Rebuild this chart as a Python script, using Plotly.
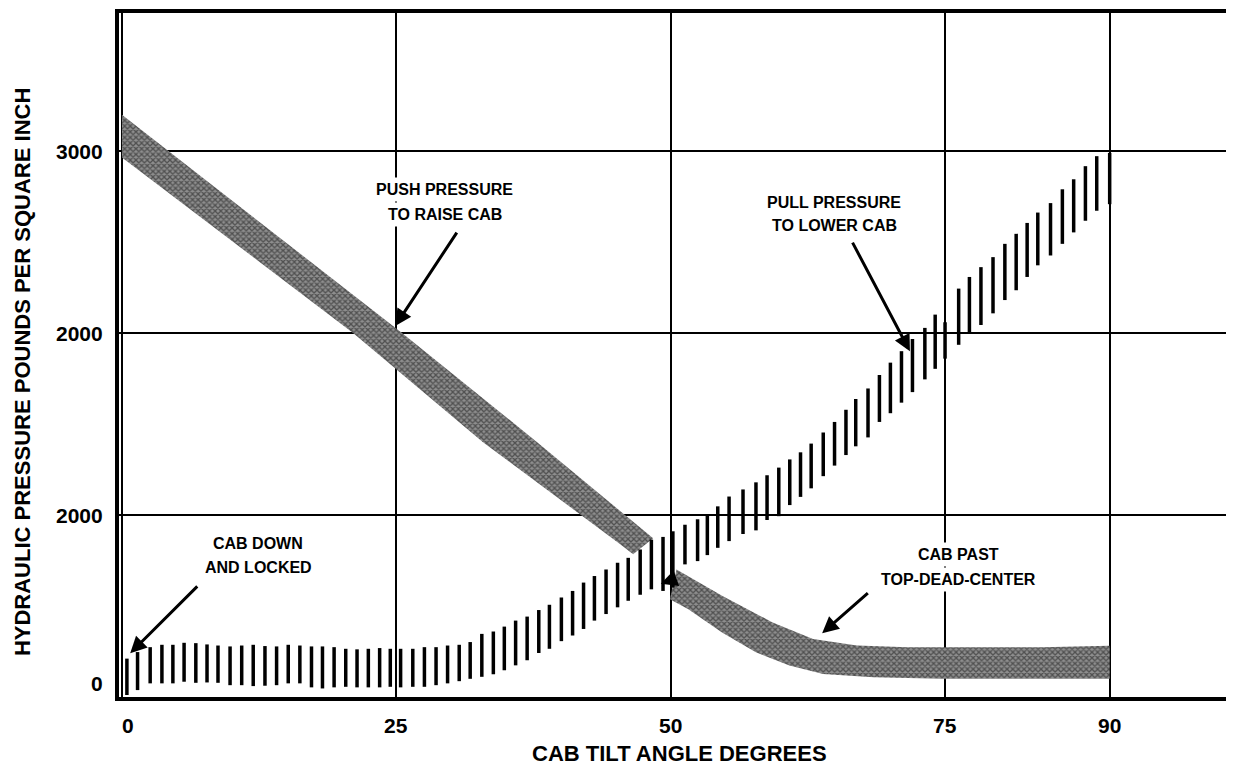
import plotly.graph_objects as go

# ---------------- data ----------------
x_ticks = [0, 25, 50, 75, 90]
x_tick_text = ["0", "25", "50", "75", "90"]
y_ticks = [0, 1000, 2000, 3000]
y_tick_text = ["0", "2000", "2000", "3000"]

# push pressure band (degrees, psi) - first segment polygon
push1_angle = [0, 25.52, 37.83, 48.4, 46.58, 45.4, 32.9, 21.06, 0]
push1_psi = [3200, 2001, 1401, 872, 785, 840, 1401, 2001, 2966]
# push pressure band - segment past top-dead-center
push2_angle = [50.53, 54.68, 59.29, 62.97, 66.97, 71.58, 77.71, 83.86, 90,
               90, 80.79, 74.64, 68.5, 63.89, 60.82, 57.76, 54.68, 51.61, 49.93]
push2_psi = [701, 556, 410, 319, 283, 273, 273, 273, 282,
             100, 100, 100, 109, 127, 173, 246, 355, 483, 537]

# pull pressure: vertical hatch marks (angle, low psi, high psi)
pull_angle = [0.45, 1.42, 2.57, 3.64, 4.64, 5.66, 6.73, 7.75, 8.75, 9.85,
              10.91, 11.96, 13.03, 14.09, 15.15, 16.21, 17.27, 18.27, 19.33, 20.39,
              21.42, 22.45, 23.48, 24.45, 25.39, 26.50, 27.56, 28.62, 29.67, 30.73,
              31.73, 32.79, 33.84, 34.84, 35.87, 36.92, 37.98, 38.95, 40.04, 41.06,
              42.06, 43.05, 44.11, 45.16, 46.13, 47.22, 48.24, 49.30, 50.20, 51.30,
              52.45, 53.34, 54.29, 55.32, 56.59, 57.77, 58.78, 59.85, 60.85, 61.83,
              62.80, 63.90, 64.93, 65.97, 66.86, 67.98, 69.02, 70.02, 71.03, 72.03,
              73.16, 74.10, 75.00, 76.24, 77.22, 78.27, 79.37, 80.45, 81.48, 82.48,
              83.45, 84.61, 85.69, 86.72, 87.79, 88.82, 90.00]
pull_low = [11, 38, 75, 75, 75, 84, 78, 80, 78, 65,
            65, 60, 62, 65, 75, 75, 53, 47, 53, 56,
            53, 53, 53, 56, 53, 56, 56, 65, 75, 87,
            100, 111, 125, 147, 174, 202, 242, 265, 307, 338,
            374, 420, 456, 493, 529, 562, 592, 583, 601, 729,
            747, 780, 820, 857, 896, 916, 973, 994, 1055, 1100,
            1147, 1214, 1272, 1330, 1378, 1427, 1512, 1560, 1618, 1676,
            1746, 1804, 1860, 1936, 2000, 2045, 2109, 2182, 2236, 2309,
            2373, 2427, 2491, 2554, 2618, 2673, 2709]
pull_high = [211, 247, 274, 287, 287, 298, 296, 289, 283, 278,
             283, 287, 280, 278, 287, 283, 278, 278, 274, 265,
             262, 265, 269, 265, 265, 265, 274, 274, 283, 287,
             302, 347, 360, 387, 420, 442, 478, 507, 547, 583,
             629, 665, 701, 738, 765, 811, 865, 880, 911, 947,
             977, 1006, 1048, 1102, 1141, 1180, 1219, 1261, 1306, 1345,
             1393, 1454, 1512, 1579, 1638, 1696, 1770, 1838, 1901, 1968,
             2029, 2102, 2060, 2245, 2309, 2363, 2418, 2491, 2546, 2606,
             2663, 2715, 2791, 2846, 2918, 2973, 2991]

# annotation texts: (lines, center angle, psi of each line)
labels = [
    (["PUSH PRESSURE", "TO RAISE CAB"], 29.4, [2790, 2655]),
    (["PULL PRESSURE", "TO LOWER CAB"], 64.9, [2721, 2590]),
    (["CAB PAST", "TOP-DEAD-CENTER"], 76.2, [782, 645]),
    (["CAB DOWN", "AND LOCKED"], 12.4, [842, 710]),
]
# arrows: (head angle, head psi, tail angle, tail psi)
arrows = [
    (24.9, 2040, 30.6, 2561),
    (71.8, 1900, 66.5, 2506),
    (0.75, 240, 7.0, 616),
    (63.8, 350, 68.1, 578),
    (49.1, 622, 50.4, 650),
]

FONT = "Liberation Sans"

fig = go.Figure()

pattern = dict(shape="x", size=4, solidity=0.55, fgcolor="#111111", bgcolor="#8e8e8e")
for ax_, ay_ in [(push1_angle, push1_psi), (push2_angle, push2_psi)]:
    fig.add_trace(go.Scatter(
        x=ax_, y=ay_, mode="lines", fill="toself", line=dict(width=0, color="#444"),
        fillcolor="#8e8e8e", fillpattern=pattern, hoverinfo="skip", showlegend=False))

mx, my = [], []
for a, lo, hi in zip(pull_angle, pull_low, pull_high):
    mx += [a, a, None]
    my += [lo, hi, None]
fig.add_trace(go.Scatter(x=mx, y=my, mode="lines", line=dict(color="black", width=3.5),
                         hoverinfo="skip", showlegend=False))

ann = []
for lines, xa, ys in labels:
    for t, yv in zip(lines, ys):
        ann.append(dict(x=xa, y=yv, xref="x", yref="y", text=t, showarrow=False,
                        font=dict(family=FONT, size=16, color="black", weight="bold"),
                        bgcolor="white", borderpad=3, xanchor="center", yanchor="middle"))
for hx, hy, tx, ty in arrows:
    ann.append(dict(x=hx, y=hy, ax=tx, ay=ty, xref="x", yref="y", axref="x", ayref="y",
                    text="", showarrow=True, arrowhead=2, arrowsize=1.1, arrowwidth=3,
                    arrowcolor="black"))
for v, t in zip(x_ticks, x_tick_text):
    ann.append(dict(x=v, y=0, xref="x", yref="paper", text=t, showarrow=False,
                    yshift=-28, xshift=(6 if v == 0 else 0), xanchor="center", yanchor="middle",
                    font=dict(family=FONT, size=21, color="black", weight="bold")))
for v, t in zip(y_ticks, y_tick_text):
    ann.append(dict(x=0, y=v, xref="paper", yref="y", text=t, showarrow=False,
                    xshift=-14, yshift=(14 if v == 0 else 0), xanchor="right", yanchor="middle",
                    font=dict(family=FONT, size=21, color="black", weight="bold")))
ann.append(dict(x=0.506, y=0, xref="paper", yref="paper", text="CAB TILT ANGLE DEGREES",
                showarrow=False, yshift=-56, xanchor="center", yanchor="middle",
                font=dict(family=FONT, size=22, color="black", weight="bold")))
ann.append(dict(x=0, y=0.475, xref="paper", yref="paper",
                text="HYDRAULIC PRESSURE POUNDS PER SQUARE INCH", textangle=-90,
                showarrow=False, xshift=-97, xanchor="center", yanchor="middle",
                font=dict(family=FONT, size=22, color="black", weight="bold")))

# page body has an 8px margin, so the figure is sized/offset to compensate
fig.update_layout(
    width=1226, height=769,
    margin=dict(l=111, r=8, t=1, b=80),
    paper_bgcolor="white", plot_bgcolor="white",
    showlegend=False,
    annotations=ann,
    xaxis=dict(range=[-0.27, 100.6], tickvals=x_ticks, showticklabels=False,
               showgrid=True, gridcolor="black", gridwidth=2, zeroline=False,
               showline=True, linecolor="black", linewidth=4, mirror=True, ticks=""),
    yaxis=dict(range=[0, 3760], tickvals=y_ticks, showticklabels=False,
               showgrid=True, gridcolor="black", gridwidth=2, zeroline=False,
               showline=True, linecolor="black", linewidth=4, mirror=True, ticks=""),
)

fig.write_html("out.html")
